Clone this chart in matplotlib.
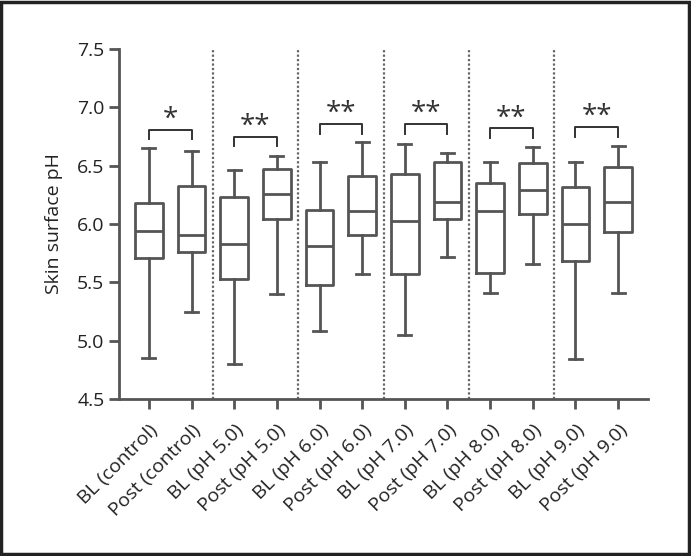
import matplotlib
matplotlib.use("Agg")
import matplotlib.pyplot as plt
from matplotlib.patches import Rectangle

plt.rcParams['font.family'] = ['Open Sans', 'DejaVu Sans']

labels = ["BL (control)", "Post (control)", "BL (pH 5.0)", "Post (pH 5.0)",
          "BL (pH 6.0)", "Post (pH 6.0)", "BL (pH 7.0)", "Post (pH 7.0)",
          "BL (pH 8.0)", "Post (pH 8.0)", "BL (pH 9.0)", "Post (pH 9.0)"]
whislo = [4.85, 5.25, 4.80, 5.40, 5.08, 5.57, 5.05, 5.72, 5.41, 5.66, 4.84, 5.41]
q1     = [5.71, 5.76, 5.53, 6.04, 5.48, 5.91, 5.57, 6.04, 5.58, 6.09, 5.68, 5.93]
med    = [5.94, 5.91, 5.83, 6.26, 5.81, 6.11, 6.03, 6.19, 6.11, 6.29, 6.00, 6.19]
q3     = [6.18, 6.33, 6.23, 6.47, 6.12, 6.41, 6.43, 6.53, 6.35, 6.52, 6.32, 6.49]
whishi = [6.65, 6.63, 6.46, 6.58, 6.53, 6.70, 6.69, 6.61, 6.53, 6.66, 6.53, 6.67]

bracket_y = [6.81, 6.75, 6.86, 6.86, 6.82, 6.83]
bracket_txt = ["*", "**", "**", "**", "**", "**"]

fig = plt.figure(figsize=(6.91, 5.56), dpi=100)
ax = fig.add_axes([119/691, 1 - 399/556, (648 - 119)/691, (399 - 49)/556])

line_c = "#555555"
stats = []
for i in range(len(labels)):
    stats.append(dict(whislo=whislo[i], q1=q1[i], med=med[i], q3=q3[i],
                      whishi=whishi[i], fliers=[], label=labels[i]))
ax.bxp(stats, positions=range(len(labels)), widths=0.65, capwidths=0.30,
       showfliers=False, patch_artist=False,
       boxprops=dict(color=line_c, linewidth=2),
       whiskerprops=dict(color=line_c, linewidth=2),
       capprops=dict(color=line_c, linewidth=2),
       medianprops=dict(color=line_c, linewidth=2))

for g in range(1, 6):
    ax.axvline(2 * g - 0.5, color="#666666", linestyle=(0, (1, 1)), linewidth=1.6, zorder=0)

for g in range(6):
    x0, x1 = 2 * g, 2 * g + 1
    yb = bracket_y[g]
    ax.plot([x0, x0, x1, x1], [yb - 0.085, yb, yb, yb - 0.085], color="#333333", linewidth=1.4)
    ax.text((x0 + x1) / 2, yb - 0.035, bracket_txt[g], ha="center", va="bottom",
            fontsize=20, color="#333333")

ax.set_xlim(-0.7, 11.7)
ax.set_ylim(4.5, 7.5)
ax.set_yticks([4.5, 5.0, 5.5, 6.0, 6.5, 7.0, 7.5])
ax.set_yticklabels(["4.5", "5.0", "5.5", "6.0", "6.5", "7.0", "7.5"])
ax.set_xticks(range(len(labels)))
ax.set_xticklabels(labels, rotation=45, ha="right", rotation_mode="anchor")
ax.spines["top"].set_visible(False)
ax.spines["right"].set_visible(False)
for s in ("left", "bottom"):
    ax.spines[s].set_color(line_c)
    ax.spines[s].set_linewidth(2)
ax.tick_params(axis="both", colors=line_c, width=2, length=7, labelsize=14,
               labelcolor="#222222")
ax.tick_params(axis="x", pad=9)
ax.set_ylabel("Skin surface pH", fontsize=14, color="#222222", labelpad=10)

fig.patches.append(Rectangle((0.002, 0.003), 0.995, 0.994, transform=fig.transFigure,
                             fill=False, edgecolor="#222222", linewidth=2.5))

fig.savefig("out.png", dpi=100)
